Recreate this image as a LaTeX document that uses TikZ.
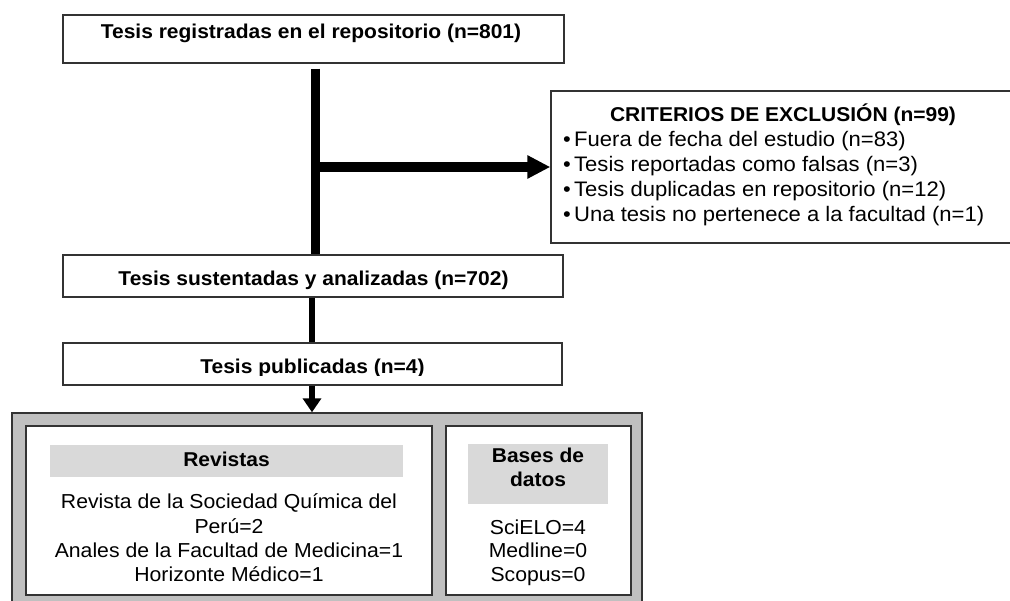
\documentclass[tikz,border=0pt]{standalone}
\usepackage{fontspec}
\setmainfont[FakeStretch=1.05]{Liberation Sans}
\usetikzlibrary{arrows.meta}
\definecolor{panelgray}{HTML}{C0C0C0}
\definecolor{headgray}{HTML}{D9D9D9}
\definecolor{edge}{HTML}{333333}
\begin{document}
\begin{tikzpicture}[x=1pt,y=-1pt,
  frame/.style={draw=edge, line width=1.4pt, fill=white, inner sep=0pt},
  headbox/.style={fill=headgray, draw=none, inner sep=0pt},
  boldtxt/.style={font=\bfseries\fontsize{20}{22}\selectfont, inner sep=0pt},
  listtxt/.style={font=\fontsize{21}{25}\selectfont, inner sep=0pt},
  bodytxt/.style={font=\fontsize{20.2}{24}\selectfont, inner sep=0pt},
  trunk/.style={line width=9pt, draw=black},
  harrow/.style={line width=10pt, draw=black, -{Triangle[length=23pt,width=22pt]}},
  stem/.style={line width=6pt, draw=black}]
\useasboundingbox (0,0) rectangle (1010,601);

% top box
\node[frame, minimum width=501pt, minimum height=48pt] (b1) at (313.5,39) {};
\node[boldtxt, anchor=base] (t1) at (311,38.5) {Tesis registradas en el repositorio (n=801)};

% exclusion box
\node[frame, minimum width=462pt, minimum height=152pt] (ex) at (782,167) {};
\node[boldtxt, anchor=base] (exh) at (783,122) {CRITERIOS DE EXCLUSIÓN (n=99)};
\node[listtxt, anchor=base west] (e1) at (563,147) {\makebox[11pt][l]{\textbullet}Fuera de fecha del estudio (n=83)};
\node[listtxt, anchor=base west] (e2) at (563,172) {\makebox[11pt][l]{\textbullet}Tesis reportadas como falsas (n=3)};
\node[listtxt, anchor=base west] (e3) at (563,197) {\makebox[11pt][l]{\textbullet}Tesis duplicadas en repositorio (n=12)};
\node[listtxt, anchor=base west] (e4) at (563,222) {\makebox[11pt][l]{\textbullet}Una tesis no pertenece a la facultad (n=1)};

% second box
\node[frame, minimum width=500pt, minimum height=42pt] (b2) at (313,276) {};
\node[boldtxt, anchor=base] (t2) at (313.5,286) {Tesis sustentadas y analizadas (n=702)};

% third box
\node[frame, minimum width=499pt, minimum height=42pt] (b3) at (312.5,364) {};
\begin{scope}
\clip (63,343) rectangle (562,375.5);
\node[boldtxt, anchor=base] (t3) at (312.5,374) {Tesis publicadas (n=4)};
\end{scope}

% bottom panel
\node[draw=edge, line width=1.4pt, fill=panelgray, inner sep=0pt, minimum width=630pt, minimum height=195pt] (pub) at (327,510.5) {};
\node[frame, minimum width=406pt, minimum height=169pt] (rev) at (229,510.5) {};
\node[frame, minimum width=185pt, minimum height=169pt] (bd) at (538.5,510.5) {};
\node[headbox, minimum width=353pt, minimum height=32pt] (revh) at (226.5,461) {};
\node[boldtxt, anchor=base] (revt) at (226.5,467) {Revistas};
\node[headbox, minimum width=140pt, minimum height=60pt] (bdh) at (538,474) {};
\node[boldtxt, anchor=base] (bdt1) at (538,463) {Bases de};
\node[boldtxt, anchor=base] (bdt2) at (538,487) {datos};

\node[bodytxt, anchor=base] (r1) at (229,509) {Revista de la Sociedad Química del};
\node[bodytxt, anchor=base] (r2) at (229,533) {Perú=2};
\node[bodytxt, anchor=base] (r3) at (229,557) {Anales de la Facultad de Medicina=1};
\node[bodytxt, anchor=base] (r4) at (229,581) {Horizonte Médico=1};

\node[bodytxt, anchor=base] (d1) at (538,535) {SciELO=4};
\node[bodytxt, anchor=base] (d2) at (538,558) {Medline=0};
\node[bodytxt, anchor=base] (d3) at (538,581) {Scopus=0};

% connectors
\draw[trunk] ([xshift=1.5pt,yshift=-5pt]b1.south) -- ([xshift=1.5pt]b1.south |- b2.north);
\coordinate (j) at (315,167);
\draw[harrow] (j) -- (ex.west);
\draw[stem] ([xshift=-1pt]b2.south) -- ([xshift=-1pt]b2.south |- b3.north);
\draw[stem, -{Triangle[length=14pt,width=18pt]}] ([xshift=-0.5pt]b3.south) -- ([xshift=-0.5pt]b3.south |- pub.north);
\end{tikzpicture}
\end{document}
